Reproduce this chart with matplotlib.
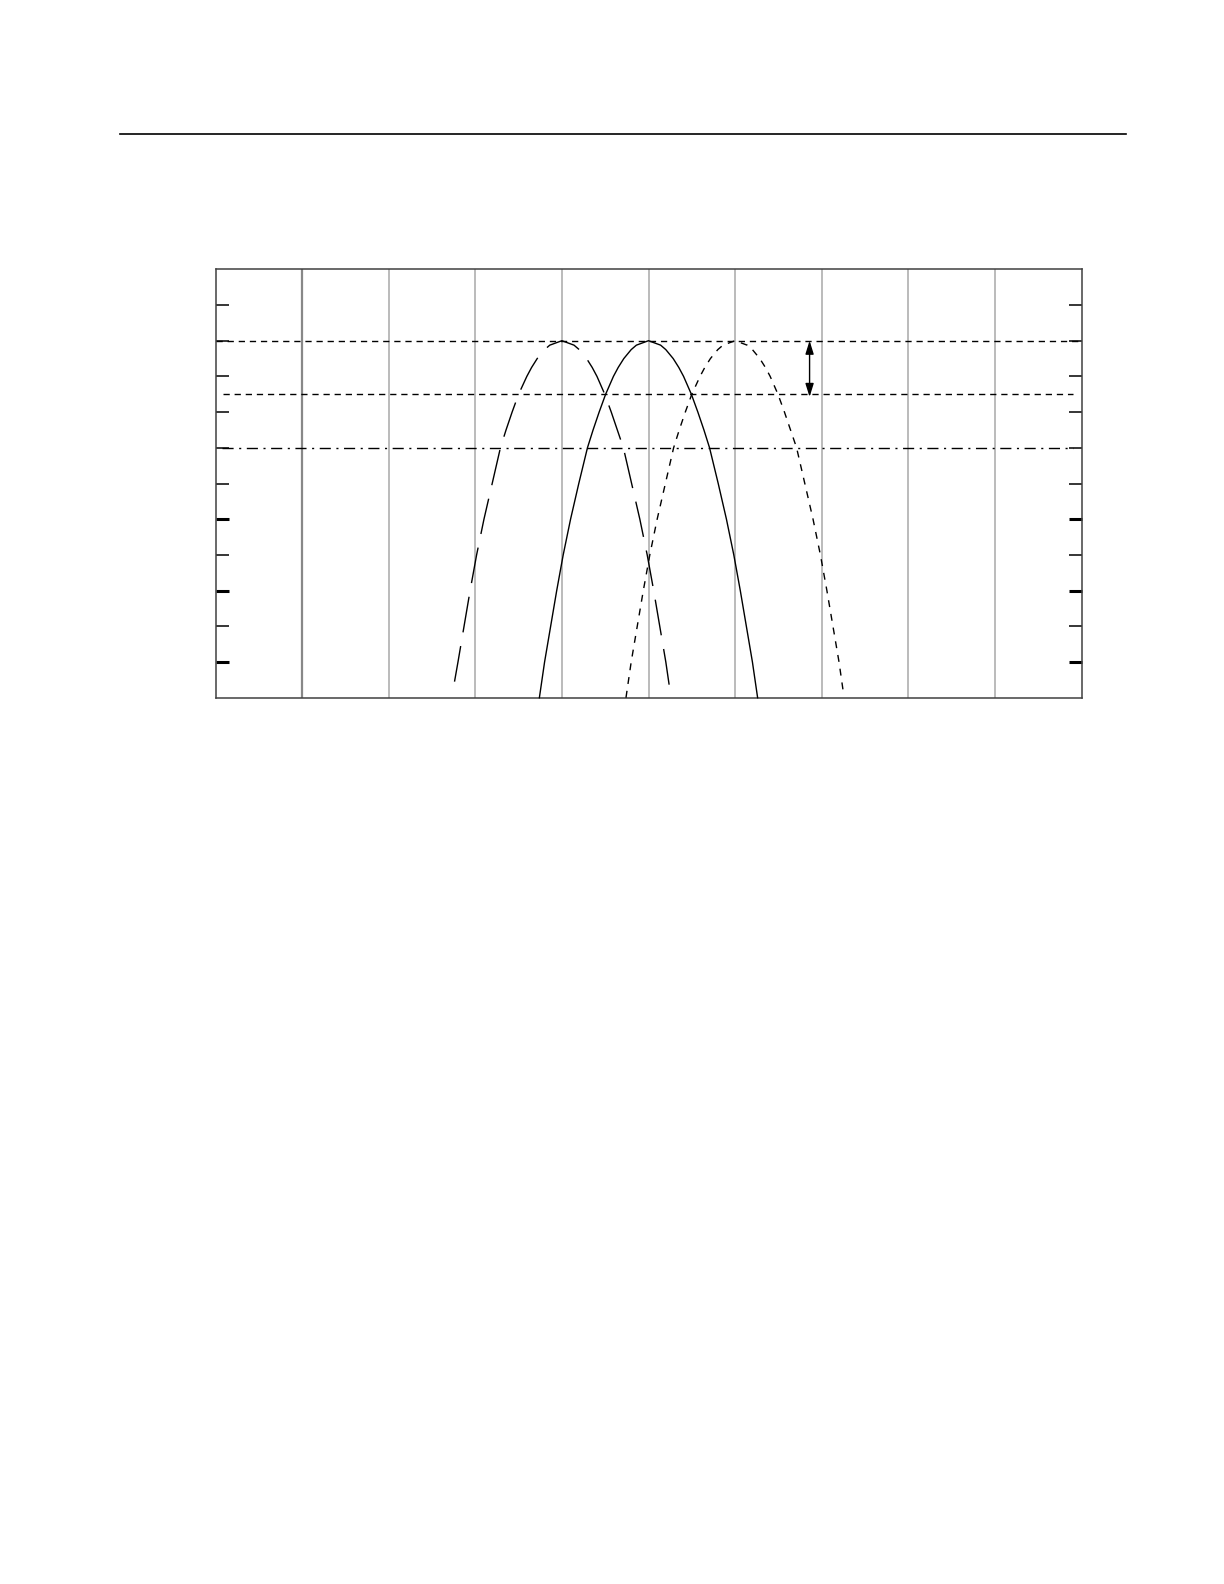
import matplotlib
matplotlib.use("Agg")
import matplotlib.pyplot as plt
from matplotlib.lines import Line2D

# ---- data (x in grid divisions, y in dB) ----
curve_db = [-20, -18, -16, -14, -12, -10, -8, -6, -5, -4, -3, -2, -1.5, -1, -0.5, -0.25, 0,
            -0.25, -0.5, -1, -1.5, -2, -3, -4, -5, -6, -8, -10, -12, -14, -16, -18, -20]

left_x = [2.76, 2.80, 2.87, 2.94, 3.015, 3.10, 3.195, 3.29, 3.355, 3.425, 3.50, 3.595, 3.65, 3.715, 3.80, 3.86, 4.00,
          4.14, 4.20, 4.285, 4.35, 4.405, 4.495, 4.57, 4.64, 4.71, 4.805, 4.90, 4.985, 5.06, 5.13, 5.20, 5.26]
left_db = [-19.1] + curve_db[1:]

center_x = [3.74, 3.80, 3.87, 3.94, 4.015, 4.10, 4.195, 4.295, 4.36, 4.43, 4.505, 4.595, 4.65, 4.715, 4.80, 4.86, 5.00,
            5.14, 5.20, 5.285, 5.35, 5.405, 5.495, 5.57, 5.64, 5.705, 5.805, 5.90, 5.985, 6.06, 6.13, 6.20, 6.26]
center_db = list(curve_db)

right_x = [4.74, 4.80, 4.87, 4.94, 5.015, 5.10, 5.195, 5.29, 5.355, 5.425, 5.50, 5.595, 5.65, 5.715, 5.80, 5.86, 6.00,
           6.14, 6.20, 6.285, 6.35, 6.405, 6.495, 6.57, 6.64, 6.71, 6.805, 6.90, 6.985, 7.06, 7.13, 7.20, 7.25]
right_db = curve_db[:-1] + [-19.7]

peak_level = 0
half_power_level = -3
minus6_level = -6
arrow_x = 6.86

x_grid = [1, 2, 3, 4, 5, 6, 7, 8, 9]
y_ticks = [-18, -16, -14, -12, -10, -8, -6, -4, -2, 0, 2]
x_range = (0, 10)
y_range = (-20, 4)

# ---- figure ----
W, H = 1224, 1584
fig = plt.figure(figsize=(W / 100, H / 100), dpi=100)
fig.patch.set_facecolor("white")

# top rule
fig.add_artist(Line2D([120 / W, 1126 / W], [1 - 134.3 / H] * 2, color="black", lw=1.2))

ax = fig.add_axes([215.5 / W, 1 - 697.7 / H, 866 / W, 428.4 / H])
ax.set_xlim(*x_range)
ax.set_ylim(*y_range)

for s in ax.spines.values():
    s.set_color("#404040")
    s.set_linewidth(1.1)

# vertical grid
for i, gx in enumerate(x_grid):
    ax.axvline(gx, color="#888888" if i == 0 else "#a8a8a8", lw=1.6 if i == 0 else 1.1, zorder=1)

# ticks
ax.set_xticks([])
ax.set_yticks(y_ticks)
ax.set_yticklabels([])
ax.tick_params(axis="y", direction="in", length=9.2, width=1.1, color="black",
               left=True, right=True, labelleft=False, labelright=False)
for t in ax.yaxis.get_major_ticks():
    if t.get_loc() in (-18, -14, -10):
        t.tick1line.set_markeredgewidth(2.2)
        t.tick2line.set_markeredgewidth(2.2)

# horizontal reference lines
ax.plot([0, 10], [peak_level, peak_level], color="black", lw=1.0,
        linestyle=(0, (4.5, 3.5)), zorder=2)
ax.plot([0.087, 9.9], [half_power_level, half_power_level], color="black", lw=1.0,
        linestyle=(0, (4.5, 3.5)), zorder=2)
ax.plot([0.08, 9.9], [minus6_level, minus6_level], color="black", lw=1.0,
        linestyle=(0, (8, 4, 1.5, 4)), zorder=2)

# curves
ax.plot(left_x, left_db, color="black", lw=1.0, linestyle=(0, (26, 10)), zorder=3, clip_on=False)
ax.plot(center_x, center_db, color="black", lw=1.0, linestyle="-", zorder=3, clip_on=False)
ax.plot(right_x, right_db, color="black", lw=1.0, linestyle=(0, (5, 5)), zorder=3, clip_on=False)

# double arrow
ax.annotate("", xy=(arrow_x, half_power_level - 0.15), xytext=(arrow_x, peak_level),
            arrowprops=dict(arrowstyle="<|-|>,head_length=0.8,head_width=0.25",
                            color="black", lw=1.0, shrinkA=0, shrinkB=0, mutation_scale=10),
            zorder=4)

fig.savefig("out.png", dpi=100, facecolor="white")
